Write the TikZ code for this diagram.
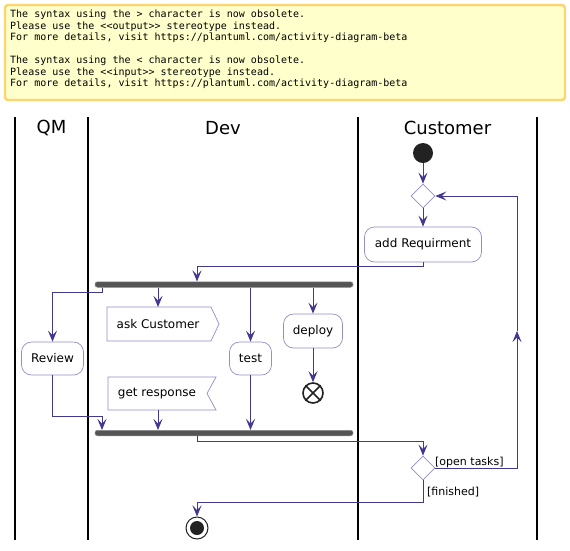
\documentclass[tikz,border=0pt]{standalone}
\usepackage{fontspec}
\setmainfont{DejaVu Sans}
\newfontfamily\notemono{DejaVu Sans Mono}
\usetikzlibrary{shapes.geometric,arrows.meta}
\definecolor{arrowc}{RGB}{67,56,145}
\definecolor{boxc}{RGB}{150,140,200}
\definecolor{notefill}{RGB}{255,255,204}
\definecolor{noteline}{RGB}{255,212,110}
\definecolor{barc}{RGB}{85,85,85}
\definecolor{startc}{RGB}{34,34,34}
\begin{document}
\begin{tikzpicture}[x=1pt,y=-1pt,
  act/.style={draw=boxc, line width=0.7pt, rounded corners=10pt, fill=white, inner sep=0pt, font=\fontsize{12}{14}\selectfont},
  txt/.style={inner sep=0pt, font=\fontsize{12}{14}\selectfont},
  shp/.style={draw=boxc, line width=0.7pt, fill=white},
  flow/.style={draw=arrowc, line width=1pt, -{Stealth[length=11pt,width=9pt,inset=4.5pt]}},
  lane/.style={draw=black, line width=1.3pt},
  lanetitle/.style={inner sep=0pt, font=\fontsize{18}{20}\selectfont},
  bar/.style={fill=barc, draw=barc!70, line width=0.5pt, rounded corners=2.5pt, minimum width=258pt, minimum height=5.5pt, inner sep=0pt},
  dia/.style={diamond, draw=boxc, line width=0.7pt, fill=white, minimum width=24pt, minimum height=24pt, inner sep=0pt},
  lbl/.style={inner sep=0pt, font=\fontsize{11}{13}\selectfont}
]
\useasboundingbox (0,0) rectangle (570,550);
% note
\draw[noteline, fill=notefill, line width=2.4pt, rounded corners=3pt] (5,5) rectangle (565,100);
\node[anchor=north west, inner sep=0pt, align=left, font=\notemono\fontsize{10}{11.5}\selectfont] (note) at (10,10)
{The syntax using the > character is now obsolete.\\
Please use the <{}<output>{}> stereotype instead.\\
For more details, visit https://plantuml.com/activity-diagram-beta\\
\mbox{}\\
The syntax using the < character is now obsolete.\\
Please use the <{}<input>{}> stereotype instead.\\
For more details, visit https://plantuml.com/activity-diagram-beta};
% lanes
\coordinate (l1t) at (15,117); \coordinate (l1b) at (15,540);
\coordinate (l2t) at (88,117); \coordinate (l2b) at (88,540);
\coordinate (l3t) at (358,117); \coordinate (l3b) at (358,540);
\coordinate (l4t) at (537,117); \coordinate (l4b) at (537,540);
\draw[lane] (l1t) -- (l1b);
\draw[lane] (l2t) -- (l2b);
\draw[lane] (l3t) -- (l3b);
\draw[lane] (l4t) -- (l4b);
\node[lanetitle] (tqm) at (51.5,128) {QM};
\node[lanetitle] (tdev) at (223,128) {Dev};
\node[lanetitle] (tcus) at (447.5,128) {Customer};
% nodes
\node[circle, fill=startc, minimum size=20pt, inner sep=0pt] (start) at (423,153) {};
\node[dia] (d1) at (423,196) {};
\node[act, minimum width=117pt, minimum height=35pt] (addreq) at (423,244.5) {add Requirment};
\node[bar] (fork) at (224,284.5) {};
\node[act, minimum width=62pt, minimum height=33pt] (review) at (52.5,358.5) {Review};
\draw[shp] (107,307) -- (211,307) -- (219,324) -- (211,341) -- (107,341) -- cycle;
\node[txt] (askc) at (158,324) {ask Customer};
\draw[shp] (108,377) -- (216,377) -- (207,393.5) -- (216,410) -- (108,410) -- cycle;
\node[txt] (getr) at (157,393.5) {get response};
\node[act, minimum width=42pt, minimum height=33pt] (test) at (250.5,358.5) {test};
\node[act, minimum width=59pt, minimum height=34pt] (deploy) at (313,331) {deploy};
\node[circle, draw=startc, line width=1.6pt, fill=white, minimum size=20pt, inner sep=0pt] (endx) at (313,393) {};
\draw[startc, line width=1.6pt] (endx.45) -- (endx.225) (endx.135) -- (endx.315);
\node[bar] (join) at (224,433) {};
\node[dia] (d2) at (423,468) {};
\node[circle, draw=startc, line width=1pt, fill=white, minimum size=22pt, inner sep=0pt] (end) at (197,528) {};
\fill[startc] (end.center) circle (7);
% helper coordinates
\coordinate (xA) at (197,0);
\coordinate (xB) at (102,0);
\coordinate (askTop) at (158,307);
\coordinate (getBot) at (158,410);
\coordinate (loopmid) at (517,331);
% connectors
\draw[flow] (start) -- (d1);
\draw[flow] (d1) -- (addreq);
\draw[flow] (addreq.south) -- ++(0,4) -| (fork.north -| xA);
\draw[flow] (fork.south -| xB) -- ++(0,5) -| (review.north);
\draw[flow] (fork.south -| askTop) -- (askTop);
\draw[flow] (fork.south -| test.north) -- (test.north);
\draw[flow] (fork.south -| deploy.north) -- (deploy.north);
\draw[flow] (deploy) -- (endx);
\draw[flow] (review.south) -- ++(0,41) -| (join.north -| xB);
\draw[flow] (getBot) -- (join.north -| getBot);
\draw[flow] (test.south) -- (join.north -| test.south);
\draw[flow] (join.south -| xA) -- ++(0,5) -| (d2.north);
\draw[flow] (d2.east) -| (loopmid);
\draw[flow] (loopmid) |- (d1.east);
\draw[flow] (d2.south) -- ++(0,22) -| (end.north);
\node[lbl, anchor=west] (lopen) at (435,462) {[open tasks]};
\node[lbl, anchor=west] (lfin) at (427,492) {[finished]};
\end{tikzpicture}
\end{document}
